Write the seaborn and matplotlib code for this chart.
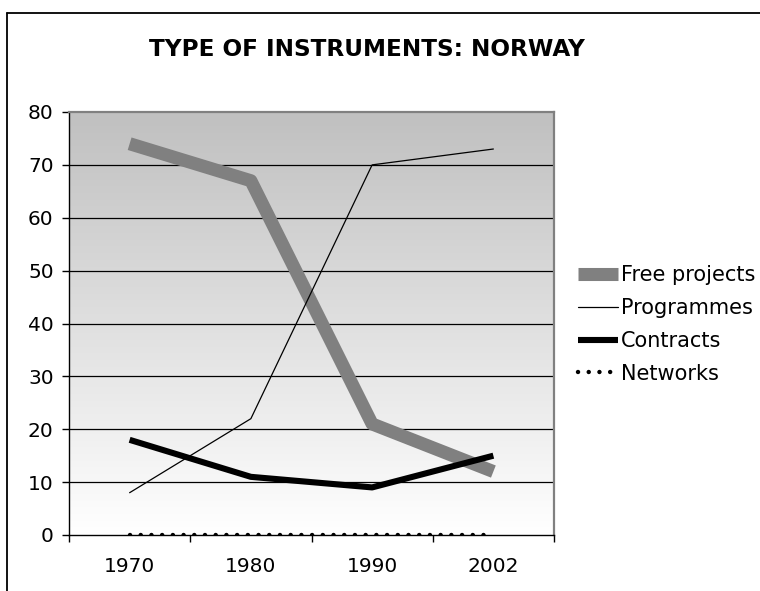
import numpy as np
import pandas as pd
import matplotlib
matplotlib.use("Agg")
import matplotlib.pyplot as plt
from matplotlib.lines import Line2D
from matplotlib.colors import LinearSegmentedColormap
import seaborn as sns

years = ["1970", "1980", "1990", "2002"]
free_projects = [74, 67, 21, 12]
programmes = [8, 22, 70, 73]
contracts = [18, 11, 9, 15]
networks = [0, 0, 0, 0]
series_names = ["Free projects", "Programmes", "Contracts", "Networks"]

sns.set_theme(style="white")
plt.rcParams['font.family'] = ['DejaVu Sans']
plt.rcParams['text.color'] = 'black'
plt.rcParams['xtick.color'] = 'black'
plt.rcParams['ytick.color'] = 'black'

W, H = 760, 591
fig = plt.figure(figsize=(W/100, H/100), dpi=100)
L, R, T, B = 69, 554, 112, 535
ax = fig.add_axes([L/W, 1-B/H, (R-L)/W, (B-T)/H])

x = np.arange(len(years))
df = pd.DataFrame({"x": np.tile(x, 4),
                   "value": free_projects + programmes + contracts + networks,
                   "series": [n for n in series_names for _ in years]})

# gradient background: gray at top, white at bottom
grad = np.linspace(0, 1, 256).reshape(-1, 1)
cmap = LinearSegmentedColormap.from_list("g", ["#c0c0c0", "#ffffff"])
ax.imshow(grad, cmap=cmap, aspect="auto", extent=[-0.5, 3.5, 0, 80], zorder=0)

for v in range(10, 80, 10):
    ax.axhline(v, color="black", lw=0.9, zorder=1)

styles = {
    "Free projects": dict(color="#808080", lw=9.4, solid_capstyle="butt"),
    "Programmes": dict(color="black", lw=0.9),
    "Contracts": dict(color="black", lw=4.4, solid_capstyle="butt"),
    "Networks": dict(color="black", lw=3.2, linestyle=(0, (0.01, 2.4)), dash_capstyle="round"),
}
for name in series_names:
    sub = df[df.series == name]
    sns.lineplot(data=sub, x="x", y="value", ax=ax, zorder=3, legend=False, **styles[name])

ax.set_xlim(-0.5, 3.5)
ax.set_ylim(0, 80)
ax.set_yticks(range(0, 81, 10))
ax.set_yticklabels([str(v) for v in range(0, 81, 10)], fontsize=14.5)
ax.set_xticks(x)
ax.set_xticklabels(years, fontsize=14.5)
ax.set_xticks([-0.5, 0.5, 1.5, 2.5, 3.5], minor=True)
ax.tick_params(axis="x", which="major", length=0, pad=16)
ax.tick_params(axis="x", which="minor", length=5, width=1, direction="out", color="black", bottom=True)
ax.tick_params(axis="y", which="major", length=5, width=1, direction="out", color="black", left=True, pad=6)
ax.set_xlabel("")
ax.set_ylabel("")
for s in ["top", "right"]:
    ax.spines[s].set_color("#808080")
    ax.spines[s].set_linewidth(1.6)
for s in ["left", "bottom"]:
    ax.spines[s].set_color("black")
    ax.spines[s].set_linewidth(1.0)

handles = [Line2D([], [], **styles[n]) for n in series_names]
fig.legend(handles, series_names,
           loc="upper left", bbox_to_anchor=(578/W, 1-265/H), frameon=False,
           fontsize=15, handlelength=1.9, handletextpad=0.15, labelspacing=0.62,
           borderpad=0.0, borderaxespad=0.0)

fig.text(367/W, 1-49/H, "TYPE OF INSTRUMENTS: NORWAY", ha="center", va="center",
         fontsize=16.7, fontweight="bold")

fig.add_artist(Line2D([7/W, 1.0], [1-13/H, 1-13/H], color="black", lw=1.3, transform=fig.transFigure))
fig.add_artist(Line2D([7/W, 7/W], [1-13/H, 0], color="black", lw=1.3, transform=fig.transFigure))

fig.savefig("out.png", dpi=100)
